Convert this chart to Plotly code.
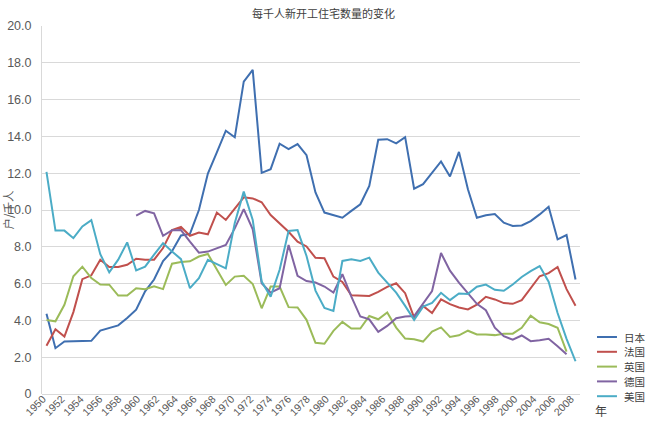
import numpy as np
import plotly.graph_objects as go

years = list(range(1950, 2010))

japan = [4.36, 2.49, 2.85, 2.85, 2.85, 2.89, 3.45, 3.58, 3.73, 4.13,
         4.58, 5.58, 6.22, 7.22, 7.76, 8.62, 8.7, 10.0, 11.98, 13.13,
         14.31, 13.95, 16.98, 17.62, 12.02, 12.22, 13.6, 13.31, 13.58, 12.98,
         10.95, 9.86, 9.72, 9.58, 9.95, 10.31, 11.31, 13.82, 13.85, 13.62,
         13.96, 11.16, 11.4, 12.0, 12.64, 11.82, 13.16, 11.13, 9.58, 9.71,
         9.78, 9.31, 9.13, 9.16, 9.4, 9.76, 10.18, 8.4, 8.64, 6.22]

france = [2.62, 3.52, 3.12, 4.45, 6.24, 6.45, 7.3, 6.9, 6.9, 7.02,
          7.35, 7.3, 7.3, 7.93, 8.91, 9.08, 8.6, 8.77, 8.68, 9.86,
          9.46, 10.09, 10.69, 10.63, 10.42, 9.73, 9.28, 8.82, 8.28, 8.02,
          7.4, 7.38, 6.38, 6.09, 5.37, 5.37, 5.33, 5.55, 5.82, 6.02,
          5.48, 4.15, 4.79, 4.4, 5.14, 4.88, 4.7, 4.6, 4.86, 5.28,
          5.14, 4.94, 4.9, 5.1, 5.75, 6.4, 6.57, 6.9, 5.7, 4.8]

uk = [4.02, 3.95, 4.85, 6.4, 6.92, 6.3, 5.95, 5.94, 5.35, 5.35,
      5.75, 5.7, 5.85, 5.7, 7.08, 7.17, 7.21, 7.47, 7.61, 6.78,
      5.93, 6.38, 6.42, 5.98, 4.66, 5.84, 5.84, 4.72, 4.7, 4.03,
      2.78, 2.73, 3.43, 3.92, 3.56, 3.56, 4.24, 4.06, 4.43, 3.61,
      3.01, 2.98, 2.85, 3.39, 3.62, 3.1, 3.19, 3.44, 3.24, 3.24,
      3.2, 3.28, 3.28, 3.6, 4.26, 3.9, 3.8, 3.6, 2.3, None]

germany = [None] * 10 + [
    9.7, 9.95, 9.82, 8.6, 8.9, 8.91, 8.28, 7.68, 7.74, 7.92,
    8.1, 9.0, 10.05, 8.95, 6.02, 5.51, 5.75, 8.1, 6.42, 6.14,
    6.06, 5.84, 5.51, 6.51, 5.29, 4.21, 4.06, 3.38, 3.7, 4.12,
    4.21, 4.24, 4.93, 5.6, 7.66, 6.7, 6.05, 5.5, 4.9, 4.55,
    3.6, 3.14, 2.95, 3.18, 2.87, 2.92, 3.0, 2.6, 2.16, None]

usa = [12.07, 8.88, 8.88, 8.47, 9.11, 9.45, 7.6, 6.61, 7.3, 8.24,
       6.72, 6.92, 7.57, 8.2, 7.75, 7.33, 5.75, 6.29, 7.29, 7.07,
       6.83, 9.3, 11.0, 9.46, 6.11, 5.29, 6.75, 8.86, 8.91, 7.5,
       5.62, 4.68, 4.52, 7.23, 7.32, 7.23, 7.41, 6.6, 6.05, 5.51,
       4.79, 4.03, 4.75, 4.95, 5.5, 5.1, 5.46, 5.44, 5.83, 5.95,
       5.66, 5.61, 5.95, 6.36, 6.68, 6.95, 6.1, 4.4, 3.0, 1.78]

series_names = ["日本", "法国", "英国", "德国", "美国"]
series_values = [japan, france, uk, germany, usa]
series_colors = ["#3F6FB0", "#C0504D", "#9BBB59", "#8064A2", "#4BACC6"]

x_tick_labels = [str(y) for y in range(1950, 2001, 2)] + ["2004", "2006", "2008"]
y_tick_vals = [0, 2, 4, 6, 8, 10, 12, 14, 16, 18, 20]
y_tick_text = ["0"] + [f"{v:.1f}" for v in y_tick_vals[1:]]

title = "每千人新开工住宅数量的变化"
y_title = "户/千人"
x_title = "年"

W, H = 665, 432
# plot area in screen pixels
L_S, R_S, T_S, B_S = 41.5, 580, 26, 394
ML, MR, MT, MB = L_S, W - R_S, T_S, H - B_S
PW, PH = W - ML - MR, H - MT - MB


def px(x):
    return (x - L_S) / PW


def py(y):
    return (B_S - y) / PH


fig = go.Figure()
for name, vals, col in zip(series_names, series_values, series_colors):
    fig.add_trace(go.Scatter(x=years, y=vals, mode="lines", name=name,
                             line=dict(color=col, width=2), connectgaps=False,
                             showlegend=False))

font_fam = "Liberation Sans, Noto Sans CJK SC, sans-serif"
cjk = "Noto Sans CJK SC, sans-serif"
tick_color = "#595959"

fig.update_layout(
    width=W, height=H,
    margin=dict(l=ML, r=MR, t=MT, b=MB, autoexpand=False),
    paper_bgcolor="white", plot_bgcolor="white",
    font=dict(family=font_fam, size=11, color=tick_color),
    showlegend=False,
)

fig.update_xaxes(
    range=[1949.5, 2009.5],
    tickmode="array",
    tickvals=list(np.linspace(1949.6, 2008.5, len(x_tick_labels))),
    ticktext=x_tick_labels,
    tickangle=-45,
    tickfont=dict(size=10.5, color=tick_color),
    showgrid=False, zeroline=False,
    showline=False, ticks="", automargin=False,
    ticklabelstandoff=-4,
)
fig.update_yaxes(
    range=[0, 20],
    tickmode="array", tickvals=y_tick_vals, ticktext=y_tick_text,
    tickfont=dict(size=12.5, color=tick_color),
    showgrid=True, gridcolor="#D9D9D9", gridwidth=1,
    zeroline=True, zerolinecolor="#D9D9D9", zerolinewidth=1,
    showline=True, linecolor="#D9D9D9", linewidth=1,
    ticks="", ticklabelstandoff=7, automargin=False,
)

annotations = [
    dict(text=title, x=px(323), y=py(13), xref="paper", yref="paper",
         yanchor="middle", xanchor="center", showarrow=False,
         font=dict(family=cjk, size=11, color="#404040")),
    dict(text=y_title, x=px(7), y=py(210), xref="paper", yref="paper",
         xanchor="center", yanchor="middle",
         textangle=-90, showarrow=False,
         font=dict(family=cjk, size=11.5, color=tick_color)),
    dict(text=x_title, x=px(601), y=py(410), xref="paper", yref="paper",
         xanchor="center", yanchor="middle", showarrow=False,
         font=dict(family=cjk, size=12, color="#404040")),
]
shapes = []
for k, (name, col) in enumerate(zip(series_names, series_colors)):
    yy = 337 + 14.8 * k
    shapes.append(dict(type="line", xref="paper", yref="paper",
                       x0=px(597), x1=px(617), y0=py(yy), y1=py(yy),
                       line=dict(color=col, width=2)))
    annotations.append(dict(text=name, x=px(622), y=py(yy), xref="paper",
                            yref="paper", xanchor="left", yanchor="middle",
                            showarrow=False,
                            font=dict(family=cjk, size=10.5, color="#404040")))

fig.update_layout(annotations=annotations, shapes=shapes)
fig.write_html("out.html", config={"displayModeBar": False},
               post_script="document.body.style.margin='0px';")
